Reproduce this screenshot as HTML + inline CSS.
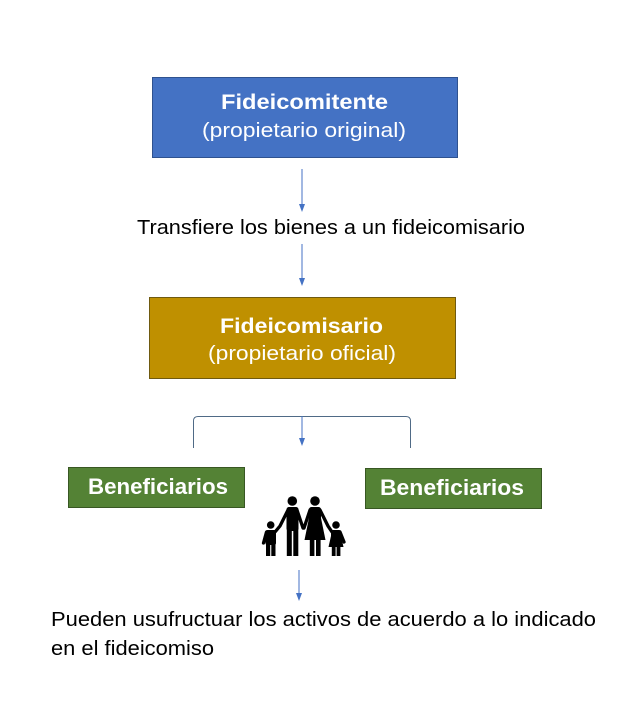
<!DOCTYPE html>
<html>
<head>
<meta charset="utf-8">
<style>
  html,body{margin:0;padding:0;background:#fff;}
  svg{display:block;}
  text{font-family:"Liberation Sans", Arial, sans-serif;}
</style>
</head>
<body>
<svg width="625" height="719" viewBox="0 0 625 719" xmlns="http://www.w3.org/2000/svg">
  <rect width="625" height="719" fill="#ffffff"/>

  <!-- Box 1 -->
  <rect x="152.5" y="77.5" width="305" height="80" fill="#4472C4" stroke="#2F528F" stroke-width="1"/>
  <text x="221" y="109" font-size="21" font-weight="bold" fill="#fff" textLength="167" lengthAdjust="spacingAndGlyphs">Fideicomitente</text>
  <text x="202" y="137" font-size="20" fill="#fff" textLength="204" lengthAdjust="spacingAndGlyphs">(propietario original)</text>

  <!-- Arrow 1 -->
  <line x1="302" y1="169" x2="302" y2="205" stroke="#4472C4" stroke-width="1"/>
  <polygon points="299,204 305,204 302,212" fill="#4472C4"/>

  <text x="137" y="234" font-size="20" fill="#000" textLength="388" lengthAdjust="spacingAndGlyphs">Transfiere los bienes a un fideicomisario</text>

  <!-- Arrow 2 -->
  <line x1="302" y1="244" x2="302" y2="279" stroke="#4472C4" stroke-width="1"/>
  <polygon points="299,278 305,278 302,286" fill="#4472C4"/>

  <!-- Box 2 -->
  <rect x="149.5" y="297.5" width="306" height="81" fill="#BF9000" stroke="#6F5A10" stroke-width="1"/>
  <text x="220" y="333" font-size="21" font-weight="bold" fill="#fff" textLength="163" lengthAdjust="spacingAndGlyphs">Fideicomisario</text>
  <text x="208" y="360" font-size="20" fill="#fff" textLength="188" lengthAdjust="spacingAndGlyphs">(propietario oficial)</text>

  <!-- Bracket -->
  <path d="M193.5,448 V421 Q193.5,416.5 198,416.5 H406 Q410.5,416.5 410.5,421 V448" fill="none" stroke="#4F6A86" stroke-width="1"/>
  <line x1="302" y1="416" x2="302" y2="439" stroke="#4472C4" stroke-width="1"/>
  <polygon points="299,438 305,438 302,446" fill="#4472C4"/>

  <!-- Beneficiarios boxes -->
  <rect x="68.5" y="467.5" width="176" height="40" fill="#548235" stroke="#385723" stroke-width="1"/>
  <text x="88" y="494" font-size="22" font-weight="bold" fill="#fff" textLength="140" lengthAdjust="spacingAndGlyphs">Beneficiarios</text>
  <rect x="365.5" y="468.5" width="176" height="40" fill="#548235" stroke="#385723" stroke-width="1"/>
  <text x="380" y="495" font-size="22" font-weight="bold" fill="#fff" textLength="144" lengthAdjust="spacingAndGlyphs">Beneficiarios</text>

  <!-- Family icon -->
  <g fill="#000" stroke="none">
    <!-- man -->
    <circle cx="292.3" cy="501" r="4.8"/>
    <rect x="286.5" y="507" width="12" height="24" rx="2.5"/>
    <rect x="286.8" y="528" width="5" height="28"/>
    <rect x="293.3" y="528" width="5" height="28"/>
    <!-- woman -->
    <circle cx="315" cy="501" r="4.8"/>
    <rect x="309" y="507" width="12" height="14" rx="2.5"/>
    <polygon points="309,518 321,518 325.5,540 304.5,540"/>
    <rect x="309.8" y="538" width="4.6" height="18"/>
    <rect x="316" y="538" width="4.6" height="18"/>
    <!-- left child -->
    <circle cx="270.7" cy="525" r="3.8"/>
    <rect x="265.5" y="530" width="10.5" height="15" rx="2"/>
    <rect x="266" y="543" width="4.2" height="13"/>
    <rect x="271.3" y="543" width="4.2" height="13"/>
    <!-- right child -->
    <circle cx="336" cy="525" r="3.8"/>
    <rect x="331" y="530" width="10" height="8" rx="2"/>
    <polygon points="331,536 341,536 343.5,547 328.5,547"/>
    <rect x="331.8" y="546" width="3.8" height="10"/>
    <rect x="336.6" y="546" width="3.8" height="10"/>
  </g>
  <g stroke="#000" stroke-width="3.3" stroke-linecap="round" fill="none">
    <path d="M288,510 L280,526 L275,532"/>
    <path d="M297,510 L303,528"/>
    <path d="M310,510 L304,528"/>
    <path d="M320,510 L328,526 L332,532"/>
    <path d="M266.5,532 L263.5,543"/>
    <path d="M340,532 L344,542"/>
  </g>

  <!-- Bottom arrow -->
  <line x1="299" y1="570" x2="299" y2="594" stroke="#4472C4" stroke-width="1"/>
  <polygon points="296,593 302,593 299,601" fill="#4472C4"/>

  <!-- Bottom text -->
  <text x="51" y="626" font-size="20" fill="#000" textLength="545" lengthAdjust="spacingAndGlyphs">Pueden usufructuar los activos de acuerdo a lo indicado</text>
  <text x="51" y="655" font-size="20" fill="#000" textLength="163" lengthAdjust="spacingAndGlyphs">en el fideicomiso</text>
</svg>
</body>
</html>
